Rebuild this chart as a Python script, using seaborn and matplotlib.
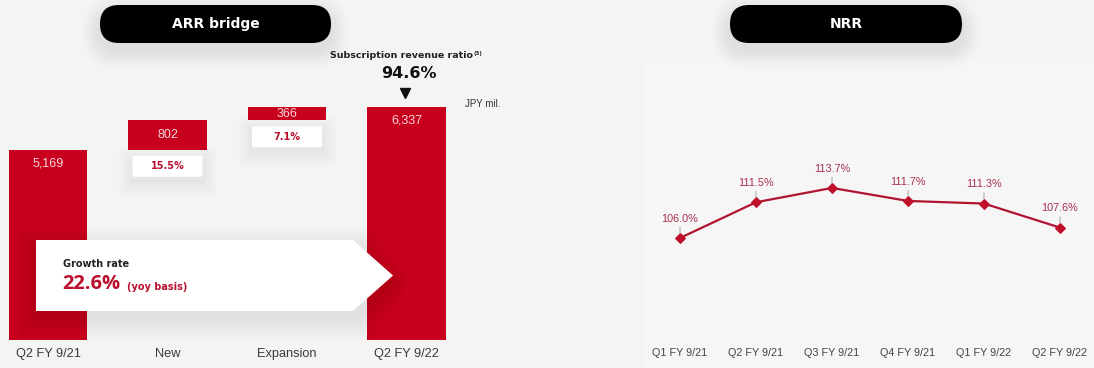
import matplotlib
matplotlib.use("Agg")
import matplotlib.pyplot as plt
import numpy as np
import pandas as pd
import seaborn as sns
from matplotlib.patches import FancyBboxPatch, Rectangle, Polygon

# ARR bridge (JPY mil.)
bridge_labels = ["Q2 FY 9/21", "New", "Expansion", "Q2 FY 9/22"]
bridge_values = [5169, 802, 366, 6337]
subscription_ratio = 94.6

# Net revenue retention (%)
nrr_quarters = ["Q1 FY 9/21", "Q2 FY 9/21", "Q3 FY 9/21",
                "Q4 FY 9/21", "Q1 FY 9/22", "Q2 FY 9/22"]
nrr_values = [106.0, 111.5, 113.7, 111.7, 111.3, 107.6]

BG = "#f4f4f4"
RED = "#c8001e"
TXT_RED = "#b8102e"
LINE = "#b01530"

sns.set_theme(style="white")
plt.rcParams["font.family"] = ["Liberation Sans", "DejaVu Sans"]

W, H = 1094, 368
fig = plt.figure(figsize=(W / 100, H / 100), dpi=100)
fig.patch.set_facecolor(BG)


def px_axes(x0, y0, x1, y1, **kw):
    return fig.add_axes([x0 / W, 1 - y1 / H, (x1 - x0) / W, (y1 - y0) / H], **kw)


# faint panel behind the NRR chart
bg = px_axes(0, 0, W, H, zorder=0)
bg.set_xlim(0, W)
bg.set_ylim(H, 0)
bg.axis("off")
bg.add_patch(Rectangle((645, 57), W - 645, H - 57, facecolor="#f6f6f6",
                       edgecolor="none"))

# ---------------- ARR bridge ----------------
ax = px_axes(0, 50, 455, 340, zorder=1)
ax.patch.set_alpha(0)
start, new, expansion, end = bridge_values
bottoms = [0, start, start + new, 0]

sns.barplot(x=bridge_labels, y=bridge_values, order=bridge_labels,
            color=RED, saturation=1, width=0.653, errorbar=None, ax=ax)
for patch, b in zip(ax.patches, bottoms):
    patch.set_y(b)
    patch.set_edgecolor("none")

k = 0.0368  # pixels per JPY mil.
ax.set_xlim(-48 / 119.5, (455 - 48) / 119.5)
ax.set_ylim(0, 290 / k)
for s in ax.spines.values():
    s.set_visible(False)
ax.set_yticks([])
ax.set_xlabel("")
ax.set_ylabel("")
ax.tick_params(axis="x", length=0, pad=6, labelsize=9.2, labelcolor="#3a3a3a")

for i, (v, b) in enumerate(zip(bridge_values, bottoms)):
    floating = b > 0
    y = b + v / 2 if floating else b + v - 13.5 / k
    ax.text(i, y, f"{v:,}", ha="center", va="center", fontsize=9,
            color="#f6d6da", zorder=5)

# overlay in pixel coordinates
ov = px_axes(0, 0, W, H, zorder=10)
ov.set_xlim(0, W)
ov.set_ylim(H, 0)
ov.axis("off")


def to_px(axis, x, y):
    dx, dy = axis.transData.transform((x, y))
    return dx, H - dy


def soft_shadow(make, layers=8, step=1.6, dy=5, alpha=0.028):
    for j in range(layers, 0, -1):
        ov.add_patch(make(j * step, dy, alpha))


# percentage boxes under the floating bars
for i in (1, 2):
    pct = bridge_values[i] / start * 100
    cx, top = to_px(ax, i, bottoms[i])
    top += 6
    w, h = 70, 21
    x0 = cx - w / 2

    def mk(e, d, a, x0=x0, top=top, w=w, h=h):
        return FancyBboxPatch((x0 - e, top - e + d), w + 2 * e, h + 2 * e,
                              boxstyle="round,pad=0,rounding_size=3",
                              facecolor="black", edgecolor="none", alpha=a)
    soft_shadow(mk, layers=7, step=2.0, dy=5, alpha=0.009)
    ov.add_patch(FancyBboxPatch((x0, top), w, h,
                                boxstyle="round,pad=0,rounding_size=2",
                                facecolor="white", edgecolor="none"))
    ov.text(cx, top + h / 2, f"{pct:.1f}%", ha="center", va="center",
            fontsize=7, fontweight="bold", color=TXT_RED,
            family="DejaVu Sans")

# title pills


def pill(x0, x1, y0, y1, label):
    r = (y1 - y0) / 2

    def mk(e, d, a):
        return FancyBboxPatch((x0 + r, y0 + r + d), x1 - x0 - 2 * r, 0.01,
                              boxstyle=f"round,pad={r + e}",
                              facecolor="black", edgecolor="none", alpha=a)
    soft_shadow(mk, layers=10, step=1.8, dy=8, alpha=0.008)
    ov.add_patch(FancyBboxPatch((x0 + r, y0 + r), x1 - x0 - 2 * r, 0.01,
                                boxstyle=f"round,pad={r}",
                                facecolor="black", edgecolor="none"))
    ov.text((x0 + x1) / 2, (y0 + y1) / 2, label, ha="center", va="center",
            color="white", fontsize=10, fontweight="bold",
            family="DejaVu Sans")


pill(100, 331, 5, 43, "ARR bridge")
pill(730, 962, 5, 43, "NRR")

# subscription revenue ratio over the closing bar
cx_end, top_end = to_px(ax, 3, end)
ov.text(402, 56, "Subscription revenue ratio", ha="center",
        va="center", fontsize=6.8, fontweight="bold", color="#222222",
        family="DejaVu Sans")
ov.text(474, 53, "(3)", ha="left", va="center", fontsize=4,
        fontweight="bold", color="#222222", family="DejaVu Sans")
ov.text(cx_end + 2, 74, f"{subscription_ratio:.1f}%", ha="center",
        va="center", fontsize=11.5, fontweight="bold", color="#111111",
        family="DejaVu Sans")
ov.plot([cx_end - 1], [93], marker="v", markersize=7, color="#111111")
ov.text(465, 104, "JPY mil.", ha="left", va="center", fontsize=7,
        color="#333333")

# growth-rate callout
growth = (end - start) / start * 100
cy0, cy1, cxl, cxr, tip = 240, 311, 36, 353, 393
cym = (cy0 + cy1) / 2


def mk_call(e, d, a):
    pts = [(cxl - e, cy0 - e + d), (cxr + e, cy0 - e + d), (tip + e, cym + d),
           (cxr + e, cy1 + e + d), (cxl - e, cy1 + e + d)]
    return Polygon(pts, closed=True, facecolor="black", edgecolor="none",
                   alpha=a)


soft_shadow(mk_call, layers=10, step=2.0, dy=8, alpha=0.009)
ov.add_patch(Polygon([(cxl, cy0), (cxr, cy0), (tip, cym), (cxr, cy1),
                      (cxl, cy1)], closed=True, facecolor="white",
                     edgecolor="none"))
ov.text(63, 264, "Growth rate", ha="left", va="center", fontsize=7,
        fontweight="bold", color="#222222", family="DejaVu Sans")
ov.text(62, 284, f"{growth:.1f}%", ha="left", va="center", fontsize=14.5,
        fontweight="bold", color=TXT_RED, family="Open Sans")
ov.text(127, 287, "(yoy basis)", ha="left", va="center", fontsize=7,
        fontweight="bold", color=TXT_RED, family="DejaVu Sans")

# ---------------- NRR line ----------------
ax2 = px_axes(630, 60, 1094, 340, zorder=2)
ax2.patch.set_alpha(0)
nrr = pd.DataFrame({"pos": np.arange(len(nrr_quarters)), "nrr": nrr_values})
sns.lineplot(data=nrr, x="pos", y="nrr", color=LINE, linewidth=1.6,
             marker="D", markersize=5.5, markerfacecolor="#c0102a",
             markeredgecolor="#c0102a", ax=ax2)
ax2.set_xlim(-50 / 76, 414 / 76)
ax2.set_ylim(106 - 102 / 6.5, 106 + 178 / 6.5)
for s in ax2.spines.values():
    s.set_visible(False)
ax2.set_yticks([])
ax2.set_xticks(nrr["pos"])
ax2.set_xticklabels(nrr_quarters)
ax2.set_xlabel("")
ax2.set_ylabel("")
ax2.tick_params(axis="x", length=0, pad=6, labelsize=7.8, labelcolor="#444444")

for i, v in enumerate(nrr_values):
    ax2.annotate(f"{v:.1f}%", xy=(i, v), xytext=(0, 13.8),
                 textcoords="offset points", ha="center", va="center",
                 fontsize=7.8, color="#a8304e",
                 arrowprops=dict(arrowstyle="-", color="#9a9a9a", lw=0.6,
                                 shrinkA=0, shrinkB=3))

fig.savefig("out.png", dpi=100, facecolor=BG)
